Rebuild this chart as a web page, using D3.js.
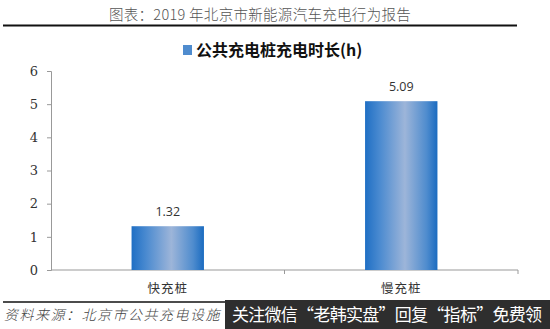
<!DOCTYPE html>
<html>
<head>
<meta charset="utf-8">
<script src="https://cdn.jsdelivr.net/npm/d3@7"></script>
<style>
  body { margin: 0; background: #fff; }
  svg { display: block; }
</style>
</head>
<body>
<div id="chart"></div>
<script>
// Data
const categories = ['快充桩', '慢充桩'];
const values = [1.32, 5.09];
const yTicks = [0, 1, 2, 3, 4, 5, 6];
const seriesName = '公共充电桩充电时长(h)';
const titleText = '图表：2019 年北京市新能源汽车充电行为报告';
const sourceText = '资料来源：北京市公共充电设施';
const bannerText = '关注微信“老韩实盘”回复“指标”免费领';

const W = 550, H = 329;
const margin = { top: 71, right: 32, bottom: 59, left: 51 };
const width = W - margin.left - margin.right;
const height = H - margin.top - margin.bottom;

const svg = d3.select('#chart')
    .append('svg')
    .attr('width', W)
    .attr('height', H);

// gradient for bars
const grad = svg.append('defs').append('linearGradient')
    .attr('id', 'barGrad')
    .attr('x1', '0%').attr('x2', '100%')
    .attr('y1', '0%').attr('y2', '0%');
grad.append('stop').attr('offset', '0%').attr('stop-color', '#1f6fc4');
grad.append('stop').attr('offset', '20%').attr('stop-color', '#4a8ad0');
grad.append('stop').attr('offset', '55%').attr('stop-color', '#9db5d9');
grad.append('stop').attr('offset', '85%').attr('stop-color', '#4f8cce');
grad.append('stop').attr('offset', '100%').attr('stop-color', '#1a6bc0');

// Title + rule
svg.append('text')
    .attr('x', 260).attr('y', 20)
    .attr('text-anchor', 'middle')
    .style('font-family', '"Noto Sans CJK SC", sans-serif')
    .style('font-size', '14.5px')
    .style('font-weight', 300)
    .style('letter-spacing', '0.3px')
    .attr('fill', '#555')
    .text(titleText);

svg.append('line')
    .attr('x1', 3).attr('x2', 517)
    .attr('y1', 25.5).attr('y2', 25.5)
    .attr('stroke', '#111').attr('stroke-width', 2);

// Legend
const legend = svg.append('g').attr('transform', 'translate(183,50)');
legend.append('rect')
    .attr('x', 0).attr('y', -5).attr('width', 9).attr('height', 10)
    .attr('fill', '#4f8cce');
legend.append('text')
    .attr('x', 13).attr('y', 6)
    .style('font-family', '"Noto Sans CJK SC", serif')
    .style('font-size', '16px')
    .style('font-weight', 'bold')
    .attr('fill', '#111')
    .text(seriesName);

const g = svg.append('g')
    .attr('transform', `translate(${margin.left},${margin.top})`);

const x = d3.scaleBand()
    .domain(categories)
    .range([0, width])
    .paddingInner(0.69)
    .paddingOuter(0.345);

const xCat = d3.scaleBand()
    .domain(categories)
    .range([0, width]);

const y = d3.scaleLinear()
    .domain([0, 6])
    .range([height, 0]);

// y axis
const yAxis = g.append('g')
    .call(d3.axisLeft(y).tickValues(yTicks).tickSize(4).tickPadding(9).tickFormat(d3.format('d')));
yAxis.select('.domain').attr('stroke', '#999');
yAxis.selectAll('.tick line').attr('stroke', '#999');
yAxis.selectAll('text')
    .style('font-family', '"DejaVu Serif", serif')
    .style('font-size', '13px')
    .attr('fill', '#333');

// x axis (category lines with boundary ticks)
const xAxis = g.append('g')
    .attr('transform', `translate(0,${height})`);
xAxis.append('line')
    .attr('x1', 0).attr('x2', width)
    .attr('stroke', '#999');
xAxis.selectAll('.bt')
    .data(categories)
    .enter().append('line')
    .attr('class', 'bt')
    .attr('x1', d => xCat(d) + xCat.bandwidth())
    .attr('x2', d => xCat(d) + xCat.bandwidth())
    .attr('y1', 0).attr('y2', 4)
    .attr('stroke', '#999');
xAxis.selectAll('.lbl')
    .data(categories)
    .enter().append('text')
    .attr('class', 'lbl')
    .attr('x', d => xCat(d) + xCat.bandwidth() / 2)
    .attr('y', 23)
    .attr('text-anchor', 'middle')
    .style('font-family', '"Noto Sans CJK SC", sans-serif')
    .style('font-size', '12.5px')
    .style('letter-spacing', '1px')
    .attr('fill', '#333')
    .text(d => d);

// bars
const data = categories.map((c, i) => ({ cat: c, val: values[i] }));
g.selectAll('.bar')
    .data(data)
    .enter().append('rect')
    .attr('class', 'bar')
    .attr('x', d => x(d.cat))
    .attr('y', d => y(d.val))
    .attr('width', x.bandwidth())
    .attr('height', d => height - y(d.val))
    .attr('fill', 'url(#barGrad)');

g.selectAll('.val')
    .data(data)
    .enter().append('text')
    .attr('class', 'val')
    .attr('x', d => x(d.cat) + x.bandwidth() / 2)
    .attr('y', d => y(d.val) - 10)
    .attr('text-anchor', 'middle')
    .style('font-family', '"Open Sans", sans-serif')
    .style('font-size', '12.5px')
    .attr('fill', '#333')
    .text(d => d3.format('.2f')(d.val));

// footer
svg.append('line')
    .attr('x1', 3).attr('x2', 550)
    .attr('y1', 302).attr('y2', 302)
    .attr('stroke', '#111').attr('stroke-width', 1.5);

svg.append('text')
    .attr('x', 4).attr('y', 320)
    .style('font-family', '"Noto Sans CJK SC", sans-serif')
    .style('font-size', '14px')
    .style('font-style', 'italic')
    .style('font-weight', 300)
    .style('letter-spacing', '1.5px')
    .attr('fill', '#444')
    .text(sourceText);

svg.append('rect')
    .attr('x', 225).attr('y', 300)
    .attr('width', 325).attr('height', 29)
    .attr('fill', '#2e2e2e');

svg.append('text')
    .attr('x', 232).attr('y', 321)
    .style('font-family', '"Noto Sans CJK SC", sans-serif')
    .style('font-size', '17px')
    .attr('fill', '#fff')
    .attr('textLength', 310)
    .text(bannerText);
</script>
</body>
</html>
